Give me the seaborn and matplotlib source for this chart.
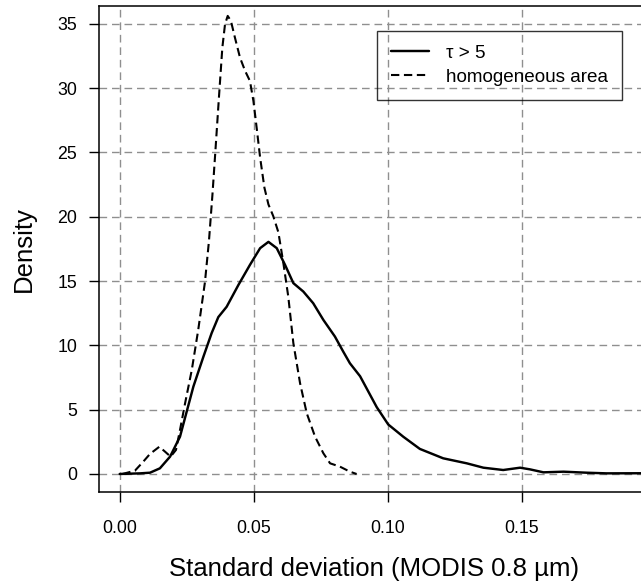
import matplotlib
matplotlib.use("Agg")
import matplotlib.pyplot as plt
import seaborn as sns

# Density curve for tau > 5 (solid)
tau_x = [0.000, 0.0076, 0.0113, 0.0150, 0.0188, 0.0225, 0.0250, 0.0275, 0.0312, 0.0343,
         0.0368, 0.0399, 0.0443, 0.0486, 0.0524, 0.0555, 0.0586, 0.0617, 0.0648, 0.0685,
         0.0722, 0.0760, 0.0803, 0.0834, 0.0859, 0.0897, 0.0959, 0.1002, 0.1058, 0.1120,
         0.1207, 0.1295, 0.1357, 0.1431, 0.1494, 0.1531, 0.1581, 0.1656, 0.1743, 0.1817,
         0.1979]
tau_y = [0.00, 0.05, 0.10, 0.44, 1.35, 2.9, 4.85, 6.8, 9.1, 10.95,
         12.2, 13.0, 14.7, 16.26, 17.56, 18.05, 17.56, 16.26, 14.84, 14.19,
         13.28, 11.98, 10.69, 9.52, 8.61, 7.6, 5.2, 3.85, 2.9, 1.95,
         1.22, 0.83, 0.49, 0.31, 0.49, 0.36, 0.13, 0.18, 0.10, 0.05,
         0.06]

# Density curve for homogeneous area (dashed)
hom_x = [0.001, 0.0057, 0.0088, 0.0113, 0.0148, 0.0169, 0.0190, 0.0210, 0.0225, 0.0244,
         0.0269, 0.0293, 0.0318, 0.0333, 0.0346, 0.0358, 0.0371, 0.0383, 0.0393, 0.0403,
         0.0415, 0.0430, 0.0449, 0.0468, 0.0486, 0.0499, 0.0511, 0.0524, 0.0540, 0.0555,
         0.0573, 0.0592, 0.0610, 0.0629, 0.0648, 0.0673, 0.0698, 0.0729, 0.0760, 0.0785,
         0.0822, 0.0859, 0.0884]
hom_y = [0.00, 0.26, 0.96, 1.56, 2.12, 1.74, 1.35, 1.87, 3.42, 5.50,
         8.09, 11.2, 14.9, 18.1, 21.7, 25.4, 29.5, 33.15, 34.97, 35.62,
         35.23, 33.93, 32.37, 31.34, 30.56, 29.0, 26.93, 24.6, 22.26, 20.96,
         20.05, 18.8, 16.5, 13.8, 10.17, 7.06, 4.72, 2.90, 1.61, 0.83,
         0.57, 0.18, 0.00]

x_ticks = [0.00, 0.05, 0.10, 0.15]
x_tick_labels = ["0.00", "0.05", "0.10", "0.15"]
y_ticks = [0, 5, 10, 15, 20, 25, 30, 35]
labels = ["\u03c4 > 5", "homogeneous area"]

sns.set_style("white")
plt.rcParams['font.family'] = ['Liberation Sans', 'DejaVu Sans']
plt.rcParams['text.color'] = 'black'
plt.rcParams['axes.labelcolor'] = 'black'

W, H = 641, 585
fig = plt.figure(figsize=(W / 100, H / 100), dpi=100)
ax_l, ax_r, ax_t, ax_b = 99, 650, 6, 492
ax = fig.add_axes([ax_l / W, 1 - ax_b / H, (ax_r - ax_l) / W, (ax_b - ax_t) / H])

sns.lineplot(x=tau_x, y=tau_y, ax=ax, color="black", linewidth=1.75,
             sort=False, estimator=None, label=labels[0],
             solid_joinstyle="round", solid_capstyle="round")
sns.lineplot(x=hom_x, y=hom_y, ax=ax, color="black", linewidth=1.5,
             linestyle=(0, (4.0, 2.2)), sort=False, estimator=None, label=labels[1],
             dash_joinstyle="round")

ax.set_xlim(-0.00772, 0.19787)
ax.set_ylim(-1.40, 36.39)
ax.set_xticks(x_ticks)
ax.set_xticklabels(x_tick_labels)
ax.set_yticks(y_ticks)

ax.grid(True, color="#8f8f8f", linestyle=(0, (5.5, 3.5)), linewidth=1.0)
ax.set_axisbelow(True)

for side in ["left", "bottom", "top", "right"]:
    ax.spines[side].set_visible(True)
    ax.spines[side].set_color("black")
    ax.spines[side].set_linewidth(1.1)

ax.tick_params(axis="both", direction="out", length=7.2, width=1.0, colors="black",
               labelcolor="black", labelsize=12.8, left=True, bottom=True)
ax.tick_params(axis="x", pad=13.0)
ax.tick_params(axis="y", pad=8.6)

ax.set_xlabel("Standard deviation (MODIS 0.8 \u00b5m)", fontsize=18.5, color="black")
ax.set_ylabel("Density", fontsize=18.5, color="black")
ax.xaxis.set_label_coords(0.5, (ax_b - 557) / (ax_b - ax_t))
ax.yaxis.set_label_coords((36 - ax_l) / (ax_r - ax_l), 0.5)

leg = ax.legend(loc="upper left", bbox_to_anchor=(376.7 / W, 1 - 30.7 / H),
                bbox_transform=fig.transFigure, borderaxespad=0, fontsize=13.6,
                frameon=True, fancybox=False, shadow=False, handlelength=2.0,
                handletextpad=0.9, borderpad=0.75, labelspacing=0.35)
frame = leg.get_frame()
frame.set_facecolor("none")
frame.set_edgecolor("black")
frame.set_linewidth(1.0)
for t in leg.get_texts():
    t.set_color("black")

fig.savefig("out.png", dpi=100)
